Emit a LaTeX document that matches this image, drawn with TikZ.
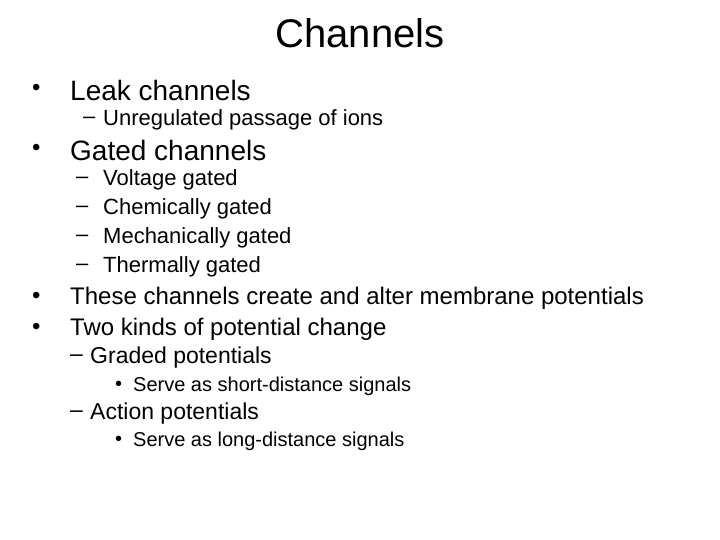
\documentclass[tikz,border=0pt]{standalone}
\usepackage{fontspec}
\setmainfont{Liberation Sans}
\begin{document}
\begin{tikzpicture}[x=1pt,y=-1pt,
  t/.style={anchor=west,inner sep=0pt},
  lA/.style={t,font=\fontsize{28}{30}\selectfont},
  lA2/.style={t,font=\fontsize{24}{26}\selectfont},
  lB/.style={t,font=\fontsize{22}{24}\selectfont},
  lB2/.style={t,font=\fontsize{23}{25}\selectfont},
  lC/.style={t,font=\fontsize{20}{22}\selectfont}]
\useasboundingbox (0,0) rectangle (720,540);
\node[font=\fontsize{40}{44}\selectfont,inner sep=0pt] (title) at (360,33) {Channels};
\node[lA2] (b1) at (32,90) {•}; \node[lA] (t1) at (70,90) {Leak channels};
\node[lB] (d1) at (83,120) {–}; \node[lB] (s1) at (103,120) {Unregulated passage of ions};
\node[lA2] (b2) at (32,150) {•}; \node[lA] (t2) at (70,150) {Gated channels};
\node[lB] (d2) at (76,180) {–}; \node[lB] (s2) at (103,180) {Voltage gated};
\node[lB] (d3) at (76,209) {–}; \node[lB] (s3) at (103,209) {Chemically gated};
\node[lB] (d4) at (76,238) {–}; \node[lB] (s4) at (103,238) {Mechanically gated};
\node[lB] (d5) at (76,267) {–}; \node[lB] (s5) at (103,267) {Thermally gated};
\node[lA2] (b3) at (32,298) {•}; \node[lA2] (t3) at (70,298) {These channels create and alter membrane potentials};
\node[lA2] (b4) at (32,329) {•}; \node[lA2] (t4) at (70,329) {Two kinds of potential change};
\node[lB2] (d6) at (70,358) {–}; \node[lB2] (s6) at (90,358) {Graded potentials};
\node[lC] (c1) at (115,386) {•}; \node[lC] (u1) at (133,386) {Serve as short-distance signals};
\node[lB2] (d7) at (70,414) {–}; \node[lB2] (s7) at (90,414) {Action potentials};
\node[lC] (c2) at (115,441) {•}; \node[lC] (u2) at (133,441) {Serve as long-distance signals};
\end{tikzpicture}
\end{document}
